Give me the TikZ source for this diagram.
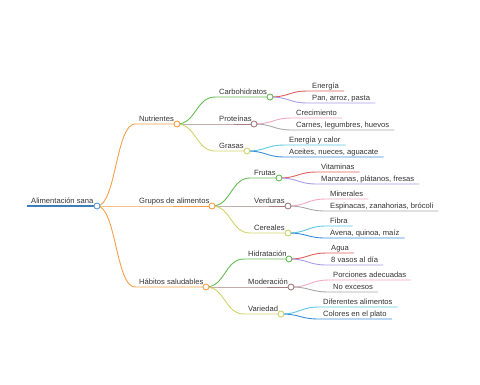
\documentclass[tikz,border=0pt]{standalone}
\usepackage{fontspec}
\setmainfont{Liberation Sans}
\usetikzlibrary{backgrounds}
\definecolor{cRoot}{HTML}{3D7DB8}
\definecolor{cRootDot}{HTML}{5B9BD5}
\definecolor{cOrange}{HTML}{F5A04A}
\definecolor{cGreen}{HTML}{66BB55}
\definecolor{cBrown}{HTML}{A57F7F}
\definecolor{cYellow}{HTML}{CDD46A}
\definecolor{cRed}{HTML}{E0605A}
\definecolor{cPurple}{HTML}{A89CE6}
\definecolor{cPink}{HTML}{F2A8C4}
\definecolor{cGray}{HTML}{A8A8A8}
\definecolor{cCyan}{HTML}{5CC8E4}
\definecolor{cBlue}{HTML}{3A8FD6}
\definecolor{cText}{HTML}{333333}
\tikzset{
  lbl/.style={anchor=base west, inner sep=0pt, text=cText, font=\fontsize{7.6}{9}\selectfont},
  dot/.style={circle, draw=#1, fill=white, line width=0.9pt, minimum size=6pt, inner sep=0pt},
  br/.style={draw=#1, line width=0.9pt},
}
\newcommand\curveto[3]{\draw[br=#3] (#1.center) .. controls +(19,0) and +(-19,0) .. (#2)}
\begin{document}
\begin{tikzpicture}[x=1pt,y=-1pt]
\useasboundingbox (0,0) rectangle (480,384);
% root
\coordinate (s-root) at (27,206);
\node[lbl] (t-root) at (31,203.5) {Alimentación sana};
\node[dot=cRootDot] (c-root) at (97,206) {};
% level 1
\coordinate (s-nutr) at (135,124);
\node[lbl] (t-nutr) at (139,121.5) {Nutrientes};
\node[dot=cOrange] (c-nutr) at (177,124) {};
\coordinate (s-grup) at (135,206);
\node[lbl] (t-grup) at (139,203.5) {Grupos de alimentos};
\node[dot=cOrange] (c-grup) at (212,206) {};
\coordinate (s-habi) at (135,287);
\node[lbl] (t-habi) at (139,284.5) {Hábitos saludables};
\node[dot=cOrange] (c-habi) at (206,287) {};
% level 2
\coordinate (s-carb) at (215,97);
\node[lbl] (t-carb) at (219,94.5) {Carbohidratos};
\node[dot=cGreen] (c-carb) at (270,97) {};
\coordinate (s-prot) at (215,124);
\node[lbl] (t-prot) at (219,121.5) {Proteínas};
\node[dot=cBrown] (c-prot) at (254,124) {};
\coordinate (s-gras) at (215,151);
\node[lbl] (t-gras) at (219,148.5) {Grasas};
\node[dot=cYellow] (c-gras) at (247,151) {};
\coordinate (s-frut) at (250,178);
\node[lbl] (t-frut) at (254,175.5) {Frutas};
\node[dot=cGreen] (c-frut) at (279,178) {};
\coordinate (s-verd) at (250,206);
\node[lbl] (t-verd) at (254,203.5) {Verduras};
\node[dot=cBrown] (c-verd) at (288,206) {};
\coordinate (s-cere) at (250,233);
\node[lbl] (t-cere) at (254,230.5) {Cereales};
\node[dot=cYellow] (c-cere) at (288,233) {};
\coordinate (s-hidr) at (244,259);
\node[lbl] (t-hidr) at (248,256.5) {Hidratación};
\node[dot=cGreen] (c-hidr) at (289,259) {};
\coordinate (s-mode) at (244,287);
\node[lbl] (t-mode) at (248,284.5) {Moderación};
\node[dot=cBrown] (c-mode) at (291,287) {};
\coordinate (s-vari) at (244,314);
\node[lbl] (t-vari) at (248,311.5) {Variedad};
\node[dot=cYellow] (c-vari) at (281,314) {};
% level 3
\coordinate (s-ener) at (308,91);  \node[lbl] (t-ener) at (312,88.5) {Energía};
\coordinate (s-pan) at (308,103);  \node[lbl] (t-pan) at (312,100.5) {Pan, arroz, pasta};
\coordinate (s-crec) at (292,118); \node[lbl] (t-crec) at (296,115.5) {Crecimiento};
\coordinate (s-carn) at (292,130); \node[lbl] (t-carn) at (296,127.5) {Carnes, legumbres, huevos};
\coordinate (s-enca) at (285,145); \node[lbl] (t-enca) at (289,142.5) {Energía y calor};
\coordinate (s-acei) at (285,157); \node[lbl] (t-acei) at (289,154.5) {Aceites, nueces, aguacate};
\coordinate (s-vita) at (317,172); \node[lbl] (t-vita) at (321,169.5) {Vitaminas};
\coordinate (s-manz) at (317,184); \node[lbl] (t-manz) at (321,181.5) {Manzanas, plátanos, fresas};
\coordinate (s-mine) at (326,199); \node[lbl] (t-mine) at (330,196.5) {Minerales};
\coordinate (s-espi) at (326,211); \node[lbl] (t-espi) at (330,208.5) {Espinacas, zanahorias, brócoli};
\coordinate (s-fibr) at (326,226); \node[lbl] (t-fibr) at (330,223.5) {Fibra};
\coordinate (s-aven) at (326,238); \node[lbl] (t-aven) at (330,235.5) {Avena, quinoa, maíz};
\coordinate (s-agua) at (327,253); \node[lbl] (t-agua) at (331,250.5) {Agua};
\coordinate (s-vaso) at (327,265); \node[lbl] (t-vaso) at (331,262.5) {8 vasos al día};
\coordinate (s-porc) at (329,280); \node[lbl] (t-porc) at (333,277.5) {Porciones adecuadas};
\coordinate (s-noex) at (329,292); \node[lbl] (t-noex) at (333,289.5) {No excesos};
\coordinate (s-dife) at (319,307); \node[lbl] (t-dife) at (323,304.5) {Diferentes alimentos};
\coordinate (s-colo) at (319,319); \node[lbl] (t-colo) at (323,316.5) {Colores en el plato};
\begin{pgfonlayer}{background}
\draw[br=cRoot, line width=1.3pt] (s-root) -- (c-root.center);
\curveto{c-root}{s-nutr}{cOrange} -- (c-nutr.center);
\curveto{c-root}{s-grup}{cOrange} -- (c-grup.center);
\curveto{c-root}{s-habi}{cOrange} -- (c-habi.center);
\curveto{c-nutr}{s-carb}{cGreen} -- (c-carb.center);
\curveto{c-nutr}{s-prot}{cBrown} -- (c-prot.center);
\curveto{c-nutr}{s-gras}{cYellow} -- (c-gras.center);
\curveto{c-grup}{s-frut}{cGreen} -- (c-frut.center);
\curveto{c-grup}{s-verd}{cBrown} -- (c-verd.center);
\curveto{c-grup}{s-cere}{cYellow} -- (c-cere.center);
\curveto{c-habi}{s-hidr}{cGreen} -- (c-hidr.center);
\curveto{c-habi}{s-mode}{cBrown} -- (c-mode.center);
\curveto{c-habi}{s-vari}{cYellow} -- (c-vari.center);
\curveto{c-carb}{s-ener}{cRed} -- (t-ener.east |- s-ener) -- ++(5,0);
\curveto{c-carb}{s-pan}{cPurple} -- (t-pan.east |- s-pan) -- ++(5,0);
\curveto{c-prot}{s-crec}{cPink} -- (t-crec.east |- s-crec) -- ++(5,0);
\curveto{c-prot}{s-carn}{cGray} -- (t-carn.east |- s-carn) -- ++(5,0);
\curveto{c-gras}{s-enca}{cCyan} -- (t-enca.east |- s-enca) -- ++(5,0);
\curveto{c-gras}{s-acei}{cBlue} -- (t-acei.east |- s-acei) -- ++(5,0);
\curveto{c-frut}{s-vita}{cRed} -- (t-vita.east |- s-vita) -- ++(5,0);
\curveto{c-frut}{s-manz}{cPurple} -- (t-manz.east |- s-manz) -- ++(5,0);
\curveto{c-verd}{s-mine}{cPink} -- (t-mine.east |- s-mine) -- ++(5,0);
\curveto{c-verd}{s-espi}{cGray} -- (t-espi.east |- s-espi) -- ++(5,0);
\curveto{c-cere}{s-fibr}{cCyan} -- (t-fibr.east |- s-fibr) -- ++(5,0);
\curveto{c-cere}{s-aven}{cBlue} -- (t-aven.east |- s-aven) -- ++(5,0);
\curveto{c-hidr}{s-agua}{cRed} -- (t-agua.east |- s-agua) -- ++(5,0);
\curveto{c-hidr}{s-vaso}{cPurple} -- (t-vaso.east |- s-vaso) -- ++(5,0);
\curveto{c-mode}{s-porc}{cPink} -- (t-porc.east |- s-porc) -- ++(5,0);
\curveto{c-mode}{s-noex}{cGray} -- (t-noex.east |- s-noex) -- ++(5,0);
\curveto{c-vari}{s-dife}{cCyan} -- (t-dife.east |- s-dife) -- ++(5,0);
\curveto{c-vari}{s-colo}{cBlue} -- (t-colo.east |- s-colo) -- ++(5,0);
\end{pgfonlayer}
\end{tikzpicture}
\end{document}
